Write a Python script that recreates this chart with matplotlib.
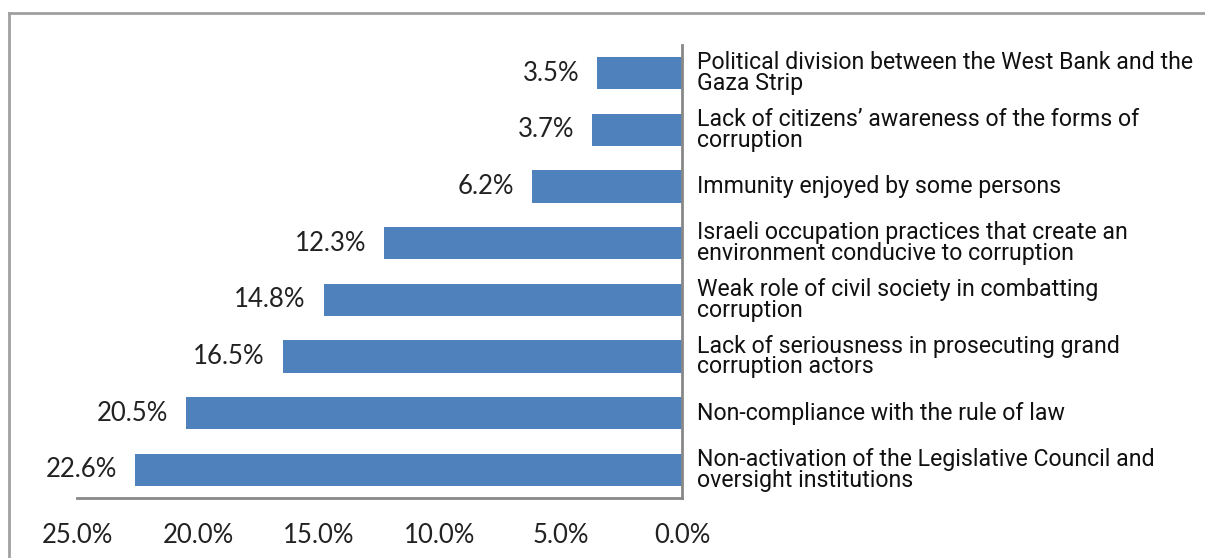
import matplotlib.pyplot as plt
from matplotlib.lines import Line2D

causes = [
    "Non-activation of the Legislative Council and\noversight institutions",
    "Non-compliance with the rule of law",
    "Lack of seriousness in prosecuting grand\ncorruption actors",
    "Weak role of civil society in combatting\ncorruption",
    "Israeli occupation practices that create an\nenvironment conducive to corruption",
    "Immunity enjoyed by some persons",
    "Lack of citizens\u2019 awareness of the forms of\ncorruption",
    "Political division between the West Bank and the\nGaza Strip",
]
shares = [22.6, 20.5, 16.5, 14.8, 12.3, 6.2, 3.7, 3.5]
ticks = [25, 20, 15, 10, 5, 0]

fig = plt.figure(figsize=(12.05, 5.58), dpi=100)
ax = fig.add_axes([77 / 1205, 1 - 498 / 558, 605 / 1205, 453 / 558])

ypos = range(len(shares))
ax.barh(ypos, shares, height=0.57, color="#4f81bd")
ax.set_xlim(25, 0)
ax.set_ylim(-0.5, len(shares) - 0.5)

for y, v in zip(ypos, shares):
    ax.annotate(f"{v:.1f}%", (v, y), xytext=(-13, 0), textcoords="offset points",
                ha="right", va="center", fontsize=18.5, family="Lato", color="#222222")
    # category text sits to the right of the zero line
    ax.annotate(causes[y], (0, y), xytext=(11, 0), textcoords="offset points",
                ha="left", va="center", fontsize=16.7, family="Roboto",
                color="#111111", linespacing=0.88, annotation_clip=False)

ax.set_xticks(ticks)
ax.set_xticklabels([f"{t:.1f}%" for t in ticks], family="Lato", fontsize=18.5, color="#222222")
ax.tick_params(axis="x", length=0, pad=18)
ax.set_yticks([])

for side in ["top", "left"]:
    ax.spines[side].set_visible(False)
ax.spines["bottom"].set_color("#888888")
ax.spines["bottom"].set_linewidth(2)
ax.spines["right"].set_color("#888888")
ax.spines["right"].set_linewidth(2)

# outer frame: top and left edges only
fig.add_artist(Line2D([9 / 1205, 1], [1 - 13 / 558, 1 - 13 / 558], color="#a0a0a0", lw=2))
fig.add_artist(Line2D([9 / 1205, 9 / 1205], [0, 1 - 13 / 558], color="#a0a0a0", lw=2))

fig.savefig("out.png", dpi=100)
